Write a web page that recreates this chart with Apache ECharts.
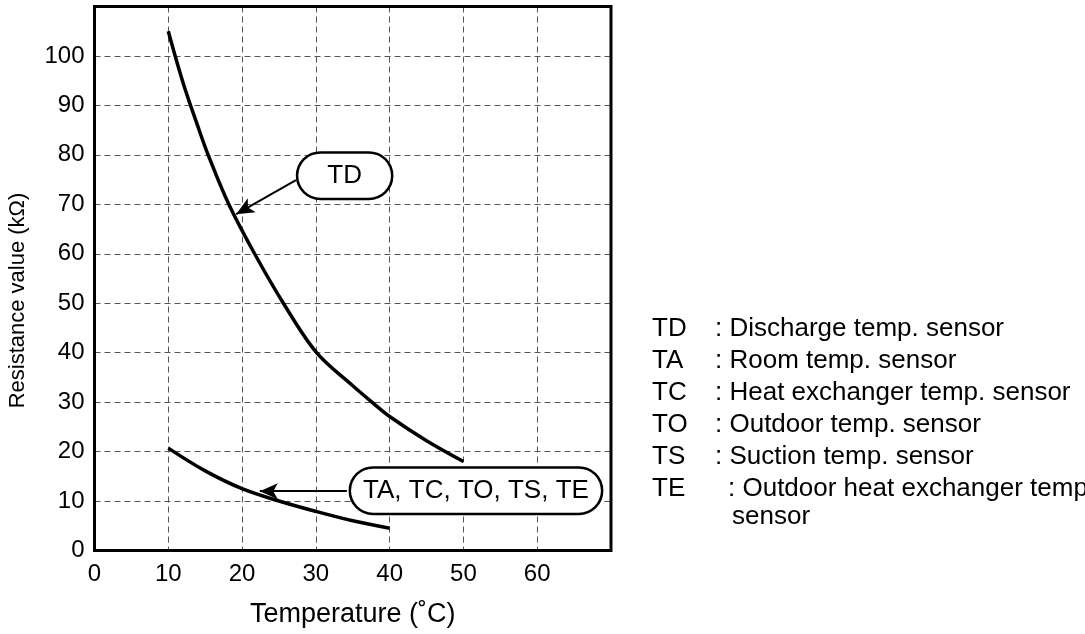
<!DOCTYPE html>
<html>
<head>
<meta charset="utf-8">
<style>
  html, body { margin: 0; padding: 0; background: #fff; }
  #chart { width: 1085px; height: 634px; }
</style>
<script src="https://cdn.jsdelivr.net/npm/echarts@6/dist/echarts.min.js"></script>
</head>
<body>
<div id="chart"></div>
<script>
// TD curve (discharge sensor)
const tdTemps = [10, 12, 14, 15.4, 18.2, 21.7, 25.6, 30.1, 35, 37.6, 40, 45, 50]
const tdValues = [105, 94.6, 85.8, 80, 70, 60, 50, 40, 33.3, 30, 27.1, 22.2, 18]
// TA, TC, TO, TS, TE curve
const lowTemps = [10, 15, 20, 25, 30, 35, 40]
const lowValues = [20.7, 16.1, 12.5, 10, 7.9, 6, 4.5]

// callouts: box centre, arrow start, arrow tip (data coords)
const tdLabel = 'TD'
const tdBox = [33.9, 75.8]
const tdArrow = [[27.3, 74.9], [19.2, 68]]
const lowLabel = 'TA, TC, TO, TS, TE'
const lowBox = [51.7, 12.1]
const lowArrow = [[34.2, 12], [22.4, 12]]

// legend on the right
const sensorCodes = ['TD', 'TA', 'TC', 'TO', 'TS', 'TE']
const sensorNames = [
  'Discharge temp. sensor',
  'Room temp. sensor',
  'Heat exchanger temp. sensor',
  'Outdoor temp. sensor',
  'Suction temp. sensor',
  'Outdoor heat exchanger temp.'
]
const sensorNameCont = 'sensor'

const FONT = '"Liberation Sans", Arial, Helvetica, sans-serif'

function pairs(xs, ys) {
  return xs.map((x, i) => [x, ys[i]])
}

function callout(text, center, padH, padV) {
  return {
    symbol: 'rect',
    symbolSize: 0,
    data: [{ coord: center, value: text }],
    label: {
      show: true,
      position: 'inside',
      formatter: text,
      color: '#000',
      fontSize: 26,
      fontFamily: FONT,
      lineHeight: 26,
      backgroundColor: '#fff',
      borderColor: '#000',
      borderWidth: 2.5,
      borderRadius: 23,
      padding: [padV, padH]
    }
  }
}

function arrow(seg) {
  return {
    silent: true,
    symbol: ['none', 'arrow'],
    symbolSize: [12, 18],
    label: { show: false },
    lineStyle: { color: '#000', width: 2, type: 'solid' },
    data: [[{ coord: seg[0] }, { coord: seg[1] }]]
  }
}

// legend graphics
const legendItems = []
const rowY0 = 329
const rowGap = 32
sensorCodes.forEach((code, i) => {
  const y = rowY0 + i * rowGap
  const isTE = i === sensorCodes.length - 1
  legendItems.push({
    type: 'text', x: 652, y: y,
    style: { text: code, font: '26px ' + FONT, fill: '#000', verticalAlign: 'middle' }
  })
  legendItems.push({
    type: 'text', x: isTE ? 728 : 715, y: y,
    style: { text: ': ' + sensorNames[i], font: '26px ' + FONT, fill: '#000', verticalAlign: 'middle' }
  })
})
legendItems.push({
  type: 'text', x: 732, y: rowY0 + 5 * rowGap + 28,
  style: { text: sensorNameCont, font: '26px ' + FONT, fill: '#000', verticalAlign: 'middle' }
})

const chart = echarts.init(document.getElementById('chart'))
chart.setOption({
  animation: false,
  backgroundColor: '#fff',
  grid: {
    left: 94.5,
    right: 474,
    top: 6.5,
    bottom: 83.5,
    show: true,
    z: 10,
    borderColor: '#000',
    borderWidth: 3,
    backgroundColor: 'transparent'
  },
  xAxis: {
    type: 'value',
    min: 0,
    max: 70,
    interval: 10,
    name: 'Temperature (˚C)',
    nameLocation: 'middle',
    nameGap: 51,
    nameTextStyle: { fontSize: 27, fontFamily: FONT, color: '#000' },
    axisLine: { show: false },
    axisTick: { show: false },
    axisLabel: {
      fontSize: 24, fontFamily: FONT, color: '#000', margin: 12,
      formatter: v => (v >= 70 ? '' : String(v))
    },
    splitLine: { show: true, lineStyle: { type: [6, 4], color: '#555', width: 1 } }
  },
  yAxis: {
    type: 'value',
    min: 0,
    max: 110,
    interval: 10,
    name: 'Resistance value (kΩ)',
    nameLocation: 'middle',
    nameGap: 66,
    nameTextStyle: { fontSize: 22, fontFamily: FONT, color: '#000', padding: [0, 44, 0, 0] },
    axisLine: { show: false },
    axisTick: { show: false },
    axisLabel: {
      fontSize: 24, fontFamily: FONT, color: '#000', margin: 10,
      formatter: v => (v >= 110 ? '' : String(v))
    },
    splitLine: { show: true, lineStyle: { type: [6, 4], color: '#555', width: 1 } }
  },
  series: [
    {
      name: 'TD',
      type: 'line',
      smooth: 0.35,
      showSymbol: false,
      lineStyle: { color: '#000', width: 3.5 },
      data: pairs(tdTemps, tdValues),
      markLine: arrow(tdArrow),
      markPoint: callout(tdLabel, tdBox, 29, 9)
    },
    {
      name: 'TA, TC, TO, TS, TE',
      type: 'line',
      smooth: 0.35,
      showSymbol: false,
      lineStyle: { color: '#000', width: 3.5 },
      data: pairs(lowTemps, lowValues),
      markLine: arrow(lowArrow),
      markPoint: callout(lowLabel, lowBox, 12, 9)
    }
  ],
  graphic: legendItems
})
</script>
</body>
</html>
